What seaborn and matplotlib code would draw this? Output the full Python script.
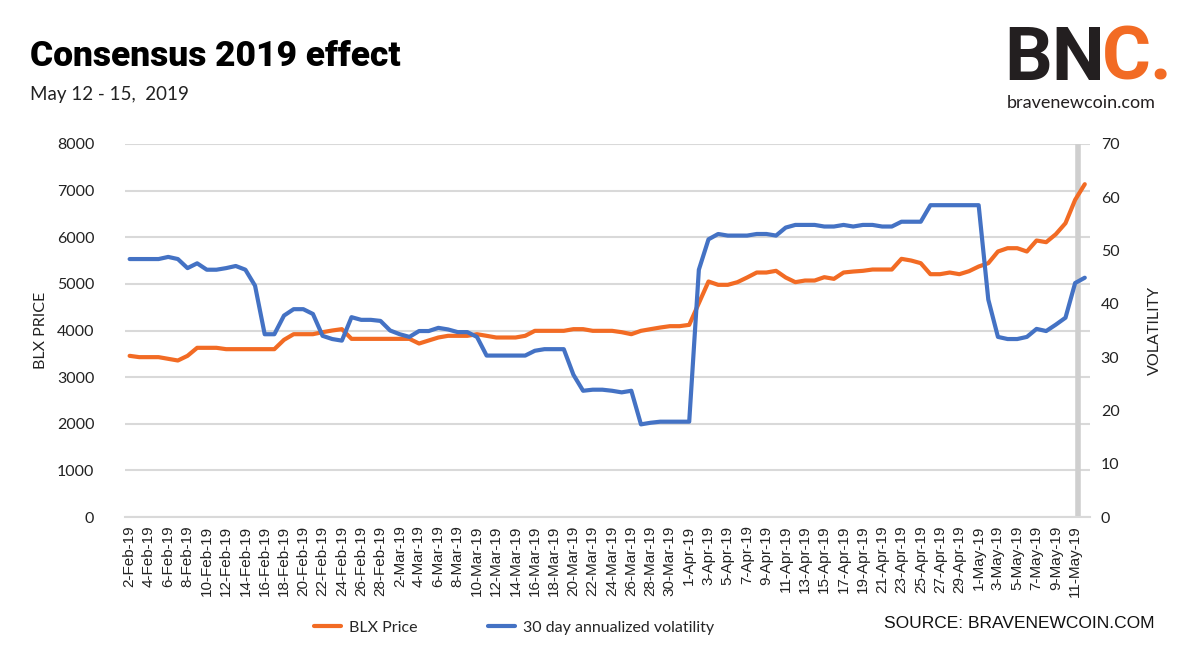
import numpy as np
import pandas as pd
import matplotlib
matplotlib.use("Agg")
import matplotlib.pyplot as plt
import seaborn as sns
from matplotlib.lines import Line2D

# ---------------- data ----------------
dates = pd.date_range("2019-02-02", "2019-05-12", freq="D")

blx_price = [
    3457, 3429, 3429, 3429, 3393, 3357, 3457, 3629, 3629, 3629,   # 2-11 Feb
    3600, 3600, 3600, 3600, 3600, 3600, 3800, 3921, 3921, 3921,   # 12-21 Feb
    3964, 4000, 4029, 3821, 3821, 3821, 3821, 3821, 3821, 3821,   # 22 Feb-3 Mar
    3721, 3786, 3850, 3886, 3886, 3886, 3921, 3886, 3850, 3850,   # 4-13 Mar
    3850, 3886, 3993, 3993, 3993, 3993, 4029, 4029, 3993, 3993,   # 14-23 Mar
    3993, 3964, 3921, 3993, 4029, 4064, 4093, 4093, 4121, 4586,   # 24 Mar-2 Apr
    5050, 4979, 4979, 5036, 5136, 5243, 5243, 5279, 5136, 5036,   # 3-12 Apr
    5071, 5071, 5143, 5107, 5243, 5264, 5279, 5307, 5307, 5307,   # 13-22 Apr
    5536, 5500, 5443, 5207, 5207, 5243, 5207, 5271, 5371, 5443,   # 23 Apr-2 May
    5693, 5764, 5764, 5693, 5929, 5893, 6064, 6300, 6800, 7136,   # 3-12 May
]

volatility = [
    48.4, 48.4, 48.4, 48.4, 48.8, 48.4, 46.7, 47.6, 46.4, 46.4,
    46.7, 47.1, 46.4, 43.4, 34.3, 34.3, 37.8, 39.0, 39.0, 38.1,
    34.0, 33.4, 33.1, 37.5, 37.0, 37.0, 36.8, 35.0, 34.3, 33.8,
    34.9, 34.9, 35.5, 35.2, 34.7, 34.7, 33.8, 30.3, 30.3, 30.3,
    30.3, 30.3, 31.2, 31.5, 31.5, 31.5, 26.7, 23.7, 23.9, 23.9,
    23.7, 23.4, 23.7, 17.4, 17.7, 17.9, 17.9, 17.9, 17.9, 46.4,
    52.1, 53.1, 52.8, 52.8, 52.8, 53.1, 53.1, 52.8, 54.3, 54.8,
    54.8, 54.8, 54.5, 54.5, 54.8, 54.5, 54.8, 54.8, 54.5, 54.5,
    55.4, 55.4, 55.4, 58.5, 58.5, 58.5, 58.5, 58.5, 58.5, 40.8,
    33.8, 33.4, 33.4, 33.8, 35.3, 34.9, 36.1, 37.4, 43.9, 44.9,
]

tick_labels = [f"{d.day}-{d.strftime('%b')}-19" for d in dates]
price_ticks = [0, 1000, 2000, 3000, 4000, 5000, 6000, 7000, 8000]
vol_ticks = [0, 10, 20, 30, 40, 50, 60, 70]
event_day = "2019-05-11"

ORANGE = "#F26B24"
BLUE = "#4472C4"
GRID = "#D9D9D9"

df = pd.DataFrame({"idx": np.arange(len(dates)), "date": dates,
                   "price": blx_price, "vol": volatility})

sns.set_theme(style="white")
plt.rcParams["font.family"] = ["Lato", "DejaVu Sans"]

fig = plt.figure(figsize=(12, 6.63), dpi=100)
ax = fig.add_axes([0.104, 0.220, 0.804, 0.563])
ax2 = ax.twinx()

sns.lineplot(data=df, x="idx", y="price", ax=ax, color=ORANGE, lw=3, zorder=3)
sns.lineplot(data=df, x="idx", y="vol", ax=ax2, color=BLUE, lw=3, zorder=3)

n = len(dates)
ax.set_xlim(-0.5, n - 0.5)
ax.set_ylim(0, 8000)
ax2.set_ylim(0, 70)
ax.set_yticks(price_ticks)
ax2.set_yticks(vol_ticks)
ax.set_yticklabels([str(t) for t in price_ticks], fontsize=11.5, color="#222222")
ax2.set_yticklabels([str(t) for t in vol_ticks], fontsize=11.5, color="#222222")

# x ticks: labels every 2 days at category centres, marks between categories
lab_idx = list(range(0, n, 2))
ax.set_xticks(lab_idx)
ax.set_xticklabels([tick_labels[i] for i in lab_idx], rotation=90,
                   fontsize=11, family="Liberation Sans", color="#222222")
ax.set_xticks(np.arange(-0.5, n, 2), minor=True)
ax.tick_params(axis="x", which="major", length=0, pad=6)
ax.tick_params(axis="x", which="minor", length=5, width=1, color=GRID, direction="out")
ax.tick_params(axis="y", length=0, pad=22)
ax2.tick_params(axis="y", length=0, pad=8)

ax.grid(axis="y", color=GRID, lw=1.5, zorder=0)
ax2.grid(False)
for a in (ax, ax2):
    for s in ["top", "left", "right", "bottom"]:
        a.spines[s].set_visible(False)
ax.spines["bottom"].set_visible(True)
ax.spines["bottom"].set_color(GRID)
ax.spines["bottom"].set_linewidth(1.5)

# event marker bar
ev = df.index[df["date"] == pd.Timestamp(event_day)][0] + 0.3
ax.axvline(ev, color="#CFCFCF", lw=4, zorder=1)

ax.set_xlabel("")
ax.set_ylabel("BLX PRICE", fontsize=11.5, color="#222222")
ax.yaxis.set_label_coords(-0.080, 0.5)
ax2.set_ylabel("VOLATILITY", fontsize=11.5, color="#222222")
ax2.yaxis.set_label_coords(1.060, 0.5)

# legend
handles = [Line2D([0], [0], color=ORANGE, lw=3),
           Line2D([0], [0], color=BLUE, lw=3)]
fig.legend(handles, ["BLX Price", "30 day annualized volatility"],
           loc="center", bbox_to_anchor=(0.4285, 0.053), ncol=2, frameon=False,
           fontsize=11.5, handlelength=1.7, columnspacing=4.4, handletextpad=0.5)

fig.text(0.9625, 0.060, "SOURCE: BRAVENEWCOIN.COM", ha="right", va="center",
         fontsize=12.5, family="Liberation Sans", color="#111111")

# titles
fig.text(0.025, 0.915, "Consensus 2019 effect", ha="left", va="center",
         fontsize=25.5, fontweight="heavy", family="Roboto", color="black")
fig.text(0.025, 0.857, "May 12 - 15,  2019", ha="left", va="center",
         fontsize=13.5, color="#222222")

# logo
t_bn = fig.text(0.837, 0.910, "BN", ha="left", va="center", fontsize=54,
                fontweight="bold", family="Roboto", color="#231F20")
fig.canvas.draw()
bb = t_bn.get_window_extent(renderer=fig.canvas.get_renderer())
x_c = (bb.x1 - 3) / fig.bbox.width
fig.text(x_c, 0.910, "C.", ha="left", va="center", fontsize=54,
         fontweight="bold", family="Roboto", color=ORANGE)
fig.text(0.839, 0.845, "bravenewcoin.com", ha="left", va="center",
         fontsize=13, color="#231F20")

fig.savefig("out.png", dpi=100)
